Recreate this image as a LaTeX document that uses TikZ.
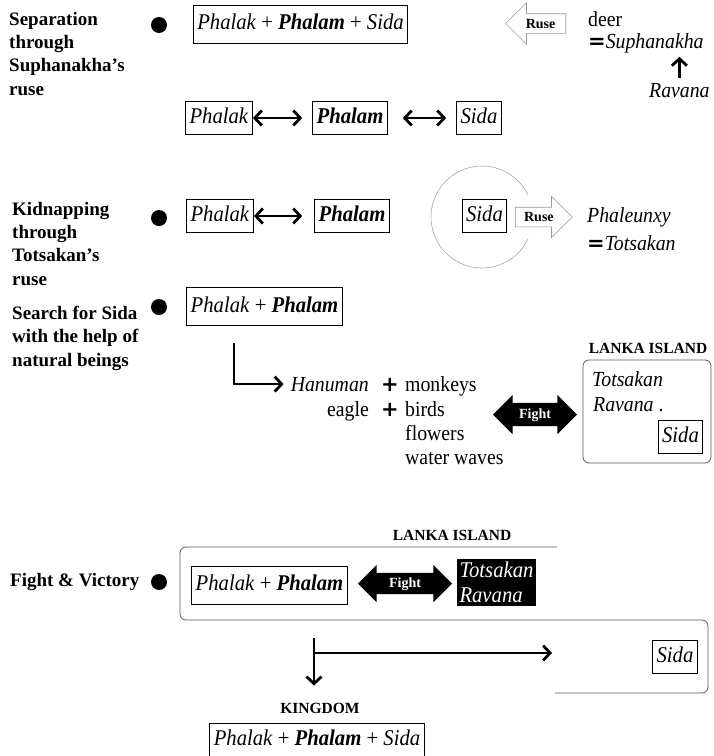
\documentclass[tikz,border=0pt]{standalone}
\usepackage{fontspec}
\setmainfont{Liberation Serif}
\newfontfamily\namefam[FakeStretch=0.92]{Liberation Serif}
\newfontfamily\symfont{DejaVu Sans}
\usetikzlibrary{arrows.meta,shapes.arrows}
\newcommand{\namefont}{\namefam\fontsize{22.5}{25}\selectfont}
\newcommand{\wordfont}{\namefam\fontsize{21.5}{24}\selectfont}
\newcommand{\labelfont}{\fontsize{19}{23.3}\selectfont\bfseries}
\newcommand{\smallbold}{\fontsize{14}{16}\selectfont\bfseries}
\newcommand{\titlefont}{\fontsize{15.5}{18}\selectfont\bfseries}
\newcommand{\bigeq}{{\symfont\bfseries\fontsize{21}{21}\selectfont =}}
\newcommand{\bigplus}{{\symfont\bfseries\fontsize{21}{21}\selectfont +}}
\newcommand{\phalak}{\textit{Phalak}}
\newcommand{\phalam}{\textbf{\textit{Phalam}}}
\newcommand{\sida}{\textit{Sida}}
\tikzstyle{box}=[draw,line width=0.9pt,font=\namefont,text height=16pt,text depth=5pt,inner xsep=4pt,inner ysep=6pt]
\tikzstyle{bigbox}=[box,inner ysep=8.5pt]
\tikzstyle{bullet}=[circle,fill=black,minimum size=16pt,inner sep=0pt]
\tikzstyle{stage}=[font=\labelfont,align=left,inner sep=0pt]
\tikzstyle{word}=[font=\wordfont,inner sep=0pt]
\tikzstyle{islandtitle}=[font=\titlefont,inner sep=0pt]
\tikzstyle{ruse}=[single arrow,draw=black!40,line width=0.6pt,fill=white,font=\smallbold,text height=10pt,text depth=1pt,inner xsep=2pt,inner ysep=4pt,single arrow head extend=11pt,minimum height=60pt]
\tikzstyle{fight}=[double arrow,fill=black,text=white,font=\smallbold,text height=10pt,text depth=3pt,inner xsep=2pt,inner ysep=5pt,double arrow head extend=8pt]
\tikzstyle{arr}=[line width=2.8pt,-{Straight Barb[length=7pt,width=15pt]}]
\tikzstyle{dbl}=[line width=2.8pt,{Straight Barb[length=7pt,width=15pt]}-{Straight Barb[length=7pt,width=15pt]}]

\begin{document}
\begin{tikzpicture}[x=1pt,y=-1pt]
    \useasboundingbox (0,0) rectangle (714,756);
    % The stages on the left, each with its bullet
    \node[stage,anchor=north west] (separation) at (9,12) {Separation\\through\\Suphanakha's\\ruse};
    \node[stage,anchor=north west] (kidnapping) at (12,202) {Kidnapping\\through\\Totsakan's\\ruse};
    \node[stage,anchor=north west] (search) at (12,306) {Search for Sida\\with the help of\\natural beings};
    \node[stage,anchor=west] (victory) at (10,582) {Fight \& Victory};
    \foreach \y/\name in {25/b1, 218/b2, 307/b3, 582/b4}
        \node[bullet] (\name) at (159,\y) {};

    % Separation
    \node[bigbox] (trio) at (300.5,24) {\phalak\ + \phalam\ + \sida};
    \node[ruse,shape border rotate=180,anchor=tail] (ruseA) at (566,23.5) {Ruse};
    \node[word,anchor=base west] (deer) at (588,26) {deer};
    \node[word,anchor=base west] (supha) at (588,48) {\bigeq\textit{Suphanakha}};
    \node[word,anchor=base west] (ravA) at (649,97) {\textit{Ravana}};
    \draw[arr,shorten <=5pt,shorten >=4pt] (ravA.north) -- (ravA.north |- supha.south);
    \foreach \pos/\name/\txt in {{(219,118)/phalakA/\phalak}, {(350,118)/phalamA/\phalam}, {(479,118)/sidaA/\sida}}
        \node[box] (\name) at \pos {\txt};
    \draw[dbl,shorten >=10pt] (phalakA) -- (phalamA);
    \draw[dbl,shorten <=15pt,shorten >=10pt] (phalamA) -- (sidaA);

    % Kidnapping
    \node[box] (phalakB) at (220,216) {\phalak};
    \node[box] (phalamB) at (352,216) {\phalam};
    \draw[dbl,shorten >=12pt] (phalakB) -- (phalamB);
    \node[box] (sidaB) at (484.5,215.5) {\sida};
    \coordinate (ring) at (482,217);
    \draw[black!35,line width=0.6pt] (ring) ++(25:51) arc[start angle=25,end angle=335,radius=51];
    \node[ruse,anchor=tail,minimum height=57pt] (ruseB) at (515,217) {Ruse};
    \node[word,anchor=base west] (phaleunxy) at (587,222) {\textit{Phaleunxy}};
    \node[word,anchor=base west] (totsA) at (587,250) {\bigeq\textit{Totsakan}};

    % Search for Sida
    \node[bigbox] (pair) at (264.5,306.5) {\phalak\ + \phalam};
    \coordinate (turn) at (234,343);
    \node[word,anchor=base east] (hanuman) at (369,391) {\textit{Hanuman}};
    \node[word,anchor=base east] (eagle) at (369,416) {eagle};
    \node[word,anchor=base] (plusA) at (390,391) {\bigplus};
    \node[word,anchor=base] (plusB) at (390,416) {\bigplus};
    \foreach \y/\name/\txt in {391/monkeys/monkeys, 416/birds/birds, 440/flowers/flowers, 464/waves/water waves}
        \node[word,anchor=base west] (\name) at (405,\y) {\txt};
    \draw[arr,shorten >=7pt] (turn) |- (hanuman.west);
    \node[fight,minimum height=84pt] (fightA) at (535,414.5) {Fight};
    \node[draw=black!65,line width=0.8pt,rounded corners=6pt,minimum width=128pt,minimum height=103pt] (lanka) at (647,411.5) {};
    \node[islandtitle,anchor=base] (lankaT) at (648,353) {LANKA ISLAND};
    \node[word,anchor=base west] (totsL) at (592,386) {\textit{Totsakan}};
    \node[word,anchor=base west] (ravL) at (593,411) {\textit{Ravana} .};
    \node[box] (sidaL) at (680.5,437) {\sida};

    % Fight and victory
    \node[islandtitle,anchor=base] (lankaB) at (452,540) {LANKA ISLAND};
    \draw[black!65,line width=0.8pt,rounded corners=6pt] (557,547) -- (180,547) -- (180,620) -- (708,620) -- (708,693) -- (555,693);
    \node[bigbox] (pairB) at (269.5,585) {\phalak\ + \phalam};
    \node[fight,minimum height=94pt,inner ysep=4pt] (fightB) at (405,583.5) {Fight};
    \node[fill=black,text=white,font=\namefont\itshape,align=left,inner xsep=2pt,inner ysep=3pt] (totsB) at (496.5,582.5) {Totsakan\\Ravana};
    \node[box] (sidaC) at (675,657) {\sida};
    \coordinate (split) at (314,638);
    \coordinate (branch) at (314,653);
    \coordinate (away) at (552,653);
    \node[islandtitle,anchor=base] (kingT) at (320,713) {KINGDOM};
    \node[box] (trioB) at (317,739.5) {\phalak\ + \phalam\ + \sida};
    \draw[arr,shorten >=17pt] (split) -- (split |- kingT.north);
    \draw[arr] (branch) -- (away);
\end{tikzpicture}
\end{document}
